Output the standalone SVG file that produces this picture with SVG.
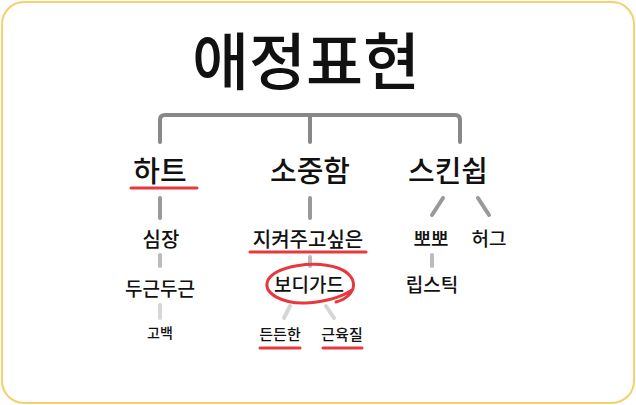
<svg xmlns="http://www.w3.org/2000/svg" width="636" height="405" viewBox="0 0 636 405">
<style>
text{font-family:"Noto Sans CJK KR","Noto Sans",sans-serif;fill:#111;text-anchor:middle;font-weight:500}
.br{fill:none;stroke:#888;stroke-width:4;stroke-linecap:round;stroke-linejoin:round}
.c1{stroke:#999;stroke-width:4;stroke-linecap:round;fill:none}
.c2{stroke:#bbb;stroke-width:4;stroke-linecap:round;fill:none}
.c3{stroke:#d6d6d6;stroke-width:4;stroke-linecap:round;fill:none}
.ul{stroke:#e8383d;stroke-width:3;stroke-linecap:round;fill:none}
</style>
<rect x="2" y="2" width="632" height="401" rx="22" fill="#fff" stroke="#f6cf6e" stroke-width="2"/>
<g id="connectors">
<path class="br" d="M160 142V120Q160 115 165 115H455Q460 115 460 120V142M310 115V142"/>
<line class="c1" x1="160" y1="198" x2="160" y2="218"/>
<line class="c2" x1="160" y1="255" x2="160" y2="266"/>
<line class="c3" x1="160" y1="305" x2="160" y2="318"/>
<line class="c1" x1="310" y1="198" x2="310" y2="218"/>
<line class="c2" x1="310" y1="257" x2="310" y2="266"/>
<line class="c3" x1="290" y1="306" x2="284" y2="318"/>
<line class="c3" x1="326" y1="306" x2="334" y2="318"/>
<line class="c1" x1="443" y1="198" x2="432" y2="215"/>
<line class="c1" x1="478" y1="198" x2="489" y2="215"/>
<line class="c2" x1="432" y1="255" x2="432" y2="266"/>
</g>
<g id="title"><text x="306" y="85" font-size="62" font-weight="700">애정표현</text></g>
<g id="n-heart"><text x="160" y="182" font-size="29">하트</text><line class="ul" x1="131" y1="188" x2="197" y2="188"/></g>
<g id="n-precious"><text x="310" y="182" font-size="29">소중함</text></g>
<g id="n-skin"><text x="448" y="182" font-size="29">스킨쉽</text></g>
<g id="n-simjang"><text x="161" y="247" font-size="20">심장</text></g>
<g id="n-dugeun"><text x="160" y="296" font-size="19">두근두근</text></g>
<g id="n-gobaek"><text x="160" y="338" font-size="14">고백</text></g>
<g id="n-protect"><text x="308" y="247" font-size="20">지켜주고싶은</text><line class="ul" x1="250" y1="252" x2="366" y2="252"/></g>
<g id="n-bodyguard"><text x="309" y="292" font-size="19">보디가드</text><path class="ul" d="M336 302C358 296 360 276 338 268C314 260 276 266 268 280C262 294 284 304 306 303C322 302 340 298 352 290"/></g>
<g id="n-sturdy"><text x="280" y="340" font-size="15">든든한</text><line class="ul" x1="260" y1="348" x2="300" y2="348"/></g>
<g id="n-muscle"><text x="342" y="340" font-size="15">근육질</text><line class="ul" x1="323" y1="348" x2="362" y2="348"/></g>
<g id="n-kiss"><text x="431" y="246" font-size="19">뽀뽀</text></g>
<g id="n-hug"><text x="489" y="246" font-size="19">허그</text></g>
<g id="n-lipstick"><text x="432" y="292" font-size="19">립스틱</text></g>
</svg>
